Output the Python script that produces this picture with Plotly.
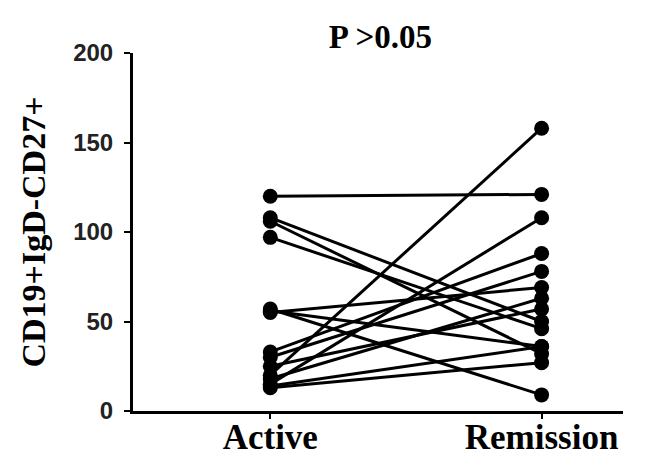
import plotly.graph_objects as go

categories = ["Active", "Remission"]
active = [120, 108, 106, 97, 57, 56, 55, 33, 30, 25, 20, 18, 15, 14, 13]
remission = [121, 50, 32, 46, 9, 36, 69, 88, 78, 57, 158, 63, 108, 36, 27]
y_ticks = [0, 50, 100, 150, 200]
title_text = "P >0.05"
y_title = "CD19+IgD-CD27+"

fig = go.Figure()
for a, r in zip(active, remission):
    fig.add_trace(go.Scatter(
        x=[0, 1], y=[a, r], mode="lines+markers",
        line=dict(color="black", width=3),
        marker=dict(color="black", size=15),
        showlegend=False, hoverinfo="skip",
    ))

fig.update_layout(
    width=665, height=458,
    margin=dict(l=125, r=50, t=45, b=55),
    paper_bgcolor="white", plot_bgcolor="white",
    title=dict(text=title_text, xref="paper", x=0.505, xanchor="center",
               yref="container", y=0.937, yanchor="middle",
               font=dict(family="Liberation Serif", size=33, color="black", weight="bold")),
)
fig.update_xaxes(
    range=[-0.506, 1.30], tickmode="array", tickvals=[0, 1], ticktext=categories,
    showgrid=False, zeroline=False, showline=True, linecolor="black", linewidth=3,
    ticks="outside", ticklen=5, tickwidth=2, tickcolor="black", automargin=False,
    ticklabelstandoff=-12,
    tickfont=dict(family="Liberation Serif", size=35, color="black", weight="bold"),
)
fig.update_yaxes(
    range=[0, 200], tickmode="array", tickvals=y_ticks,
    showgrid=False, zeroline=False, showline=True, linecolor="black", linewidth=3,
    ticks="outside", ticklen=6, tickwidth=2, tickcolor="black", automargin=False,
    ticklabelstandoff=6,
    tickfont=dict(family="Liberation Sans", size=24, color="#222", weight="bold"),
    title=dict(text=y_title, standoff=18,
               font=dict(family="Liberation Serif", size=34, color="black", weight="bold")),
)
fig.write_html("out.html")
